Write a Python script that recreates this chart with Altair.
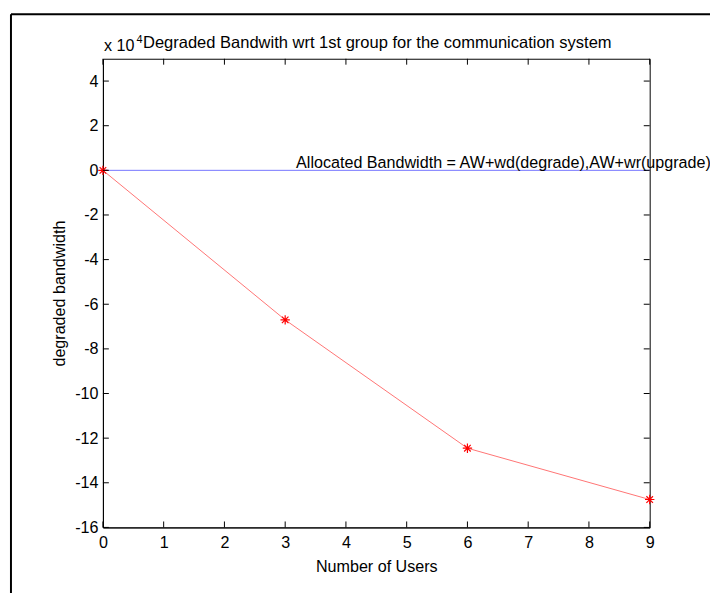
import altair as alt
import pandas as pd

# ---- data (values in units of 10^4) ----
users = [0, 3, 6, 9]
degraded = [0, -6.7, -12.45, -14.75]
alloc_users = [0, 9]
alloc_bw = [0, 0]
x_ticks = [0, 1, 2, 3, 4, 5, 6, 7, 8, 9]
y_ticks = [-16, -14, -12, -10, -8, -6, -4, -2, 0, 2, 4]
ann_x = [3.18]
ann_y = [0]

title_text = ["Degraded Bandwith wrt 1st group for the communication system"]
x_title = "Number of Users"
y_title = "degraded bandwidth"
annotation = ["Allocated Bandwidth = AW+wd(degrade),AW+wr(upgrade)"]
exp_base = ["x 10"]
exp_power = ["4"]

W, H = 553, 474
FONT = "Liberation Sans"
FS = 16.3
STAR = "M-1,0L1,0M0,-1L0,1M-0.7,-0.7L0.7,0.7M-0.7,0.7L0.7,-0.7"

xs = alt.Scale(domain=[0, 9], nice=False, zero=False)
ys = alt.Scale(domain=[-16, 5], nice=False, zero=False)

deg_df = pd.DataFrame({"users": users, "bw": degraded})
alloc_df = pd.DataFrame({"users": alloc_users, "bw": alloc_bw})
xt_df = pd.DataFrame({"users": x_ticks})
yt_df = pd.DataFrame({"bw": y_ticks})
ann_df = pd.DataFrame({"users": ann_x, "bw": ann_y, "label": annotation})
one = pd.DataFrame({"k": [0]})

x_axis = alt.Axis(values=x_ticks, tickSize=0, labelPadding=7, titlePadding=8,
                  grid=False, labelFontSize=FS, titleFontSize=FS, labelFont=FONT,
                  titleFont=FONT, titleFontWeight="normal", labelColor="black",
                  titleColor="black", labelFlush=False, labelOverlap=False,
                  domainColor="black", title=x_title, labelExpr="'' + datum.value")
y_axis = alt.Axis(values=y_ticks, tickSize=0, labelPadding=5, titlePadding=7,
                  grid=False, labelFontSize=FS, titleFontSize=FS, labelFont=FONT,
                  titleFont=FONT, titleFontWeight="normal", labelColor="black",
                  titleColor="black", labelFlush=False, labelOverlap=False,
                  domainColor="black", title=y_title, labelExpr="'' + datum.value")

X = alt.X("users:Q", scale=xs, axis=x_axis)
Y = alt.Y("bw:Q", scale=ys, axis=y_axis)

alloc_line = alt.Chart(alloc_df).mark_line(color="blue", strokeWidth=1, opacity=0.55).encode(x=X, y=Y)
deg_line = alt.Chart(deg_df).mark_line(color="red", strokeWidth=1, opacity=0.55).encode(x=X, y=Y)
deg_pts = alt.Chart(deg_df).mark_point(shape=STAR, size=90, filled=False, color="red",
                                       strokeWidth=1.2, opacity=1).encode(x=X, y=Y)

TL = 6
xt_bottom = alt.Chart(xt_df).mark_rule(color="black", strokeWidth=1).encode(
    x=X, y=alt.value(H), y2=alt.value(H - TL))
xt_top = alt.Chart(xt_df).mark_rule(color="black", strokeWidth=1).encode(
    x=X, y=alt.value(0), y2=alt.value(TL))
yt_left = alt.Chart(yt_df).mark_rule(color="black", strokeWidth=1).encode(
    y=Y, x=alt.value(0), x2=alt.value(TL))
yt_right = alt.Chart(yt_df).mark_rule(color="black", strokeWidth=1).encode(
    y=Y, x=alt.value(W), x2=alt.value(W - TL))

ann = alt.Chart(ann_df).mark_text(align="left", baseline="alphabetic", dy=-2,
                                  fontSize=FS, font=FONT, color="black").encode(
    x=X, y=Y, text="label:N")

title = alt.Chart(pd.DataFrame({"s": title_text})).mark_text(
    align="center", baseline="alphabetic", fontSize=16.7, font=FONT, color="black").encode(
    x=alt.value(W / 2 + 1), y=alt.value(-11), text="s:N")
exp1 = alt.Chart(pd.DataFrame({"s": exp_base})).mark_text(
    align="left", baseline="alphabetic", fontSize=FS, font=FONT, color="black").encode(
    x=alt.value(1), y=alt.value(-8), text="s:N")
exp2 = alt.Chart(pd.DataFrame({"s": exp_power})).mark_text(
    align="left", baseline="alphabetic", fontSize=11, font=FONT, color="black").encode(
    x=alt.value(34), y=alt.value(-16), text="s:N")

frame_left = alt.Chart(one).mark_rule(color="black", strokeWidth=2).encode(
    x=alt.value(-93), y=alt.value(-45), y2=alt.value(H + 70))
frame_top = alt.Chart(one).mark_rule(color="black", strokeWidth=2).encode(
    y=alt.value(-45), x=alt.value(-93), x2=alt.value(W + 70))

chart = alt.layer(
    alloc_line, deg_line, deg_pts,
    xt_bottom, xt_top, yt_left, yt_right, ann, title, exp1, exp2,
    frame_left, frame_top,
).properties(
    width=W, height=H,
    autosize=alt.AutoSizeParams(type="none"),
    padding={"left": 96, "top": 48, "right": 61, "bottom": 63},
    background="white",
).configure_view(stroke="black", strokeWidth=1).configure_axis(domainWidth=1)

chart.save("out.html", embed_options={"renderer": "svg", "actions": False})
